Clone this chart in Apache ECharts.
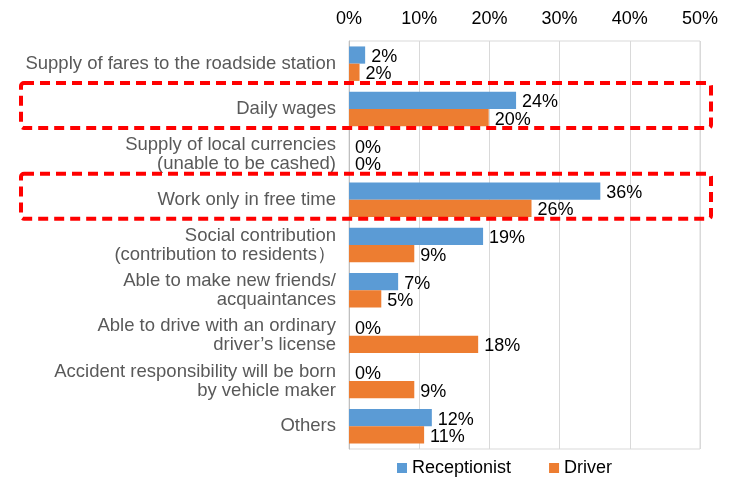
<!DOCTYPE html>
<html><head><meta charset="utf-8">
<script src="https://cdn.jsdelivr.net/npm/echarts@6/dist/echarts.min.js"></script>
<style>html,body{margin:0;padding:0;background:#fff}#c{width:737px;height:477px}</style>
</head><body><div id="c"></div>
<script>
const categories = [
  'Supply of fares to the roadside station',
  'Daily wages',
  'Supply of local currencies\n(unable to be cashed)',
  'Work only in free time',
  'Social contribution\n(contribution to residents\uFF09',
  'Able to make new friends/\nacquaintances',
  'Able to drive with an ordinary\ndriver\u2019s license',
  'Accident responsibility will be born\nby vehicle maker',
  'Others'
];
const receptionist = [2.3, 23.8, 0, 35.8, 19.1, 7.0, 0, 0, 11.8];
const driver = [1.5, 19.9, 0, 26.0, 9.3, 4.6, 18.4, 9.3, 10.7];
const xTicks = [0, 10, 20, 30, 40, 50];
const highlighted = [1, 3];

const chart = echarts.init(document.getElementById('c'));
const lbl = {show: true, position: 'right', distance: 6, color: '#000', fontSize: 18, fontFamily: 'Liberation Sans, Arial',
  offset: [0, 2], formatter: p => Math.round(p.value) + '%'};
chart.setOption({
  animation: false,
  textStyle: {fontFamily: 'Liberation Sans, Arial'},
  grid: {left: 349, right: 37, top: 41, bottom: 28, show: true, borderColor: '#d9d9d9', borderWidth: 1},
  legend: {bottom: -5, left: 392, itemWidth: 10, itemHeight: 10, itemGap: 38, icon: 'rect',
    textStyle: {fontSize: 18, color: '#000', padding: [0, 0, 0, 0]}, data: ['Receptionist', 'Driver']},
  xAxis: {type: 'value', position: 'top', min: xTicks[0], max: xTicks[xTicks.length - 1], interval: 10,
    axisLine: {show: false}, axisTick: {show: false},
    splitLine: {lineStyle: {color: '#d9d9d9'}},
    axisLabel: {formatter: '{value}%', fontSize: 18, color: '#000', margin: 13}},
  yAxis: {type: 'category', inverse: true, data: categories,
    axisLine: {lineStyle: {color: '#bfbfbf'}}, axisTick: {show: false},
    axisLabel: {fontSize: 18.5, color: '#595959', margin: 13, lineHeight: 19, align: 'right'}},
  series: [
    {name: 'Receptionist', type: 'bar', data: receptionist, barGap: '0%', barCategoryGap: '24%',
      itemStyle: {color: '#5B9BD5'}, label: lbl},
    {name: 'Driver', type: 'bar', data: driver, itemStyle: {color: '#ED7D31'}, label: lbl}
  ]
});
function drawBoxes() {
  const g = highlighted.map(i => {
    const yc = chart.convertToPixel({yAxisIndex: 0}, i);
    return {type: 'rect', shape: {x: 21, y: yc - 26, width: 690, height: 45, r: 3},
      style: {fill: 'none', stroke: '#FF0000', lineWidth: 4, lineDash: [10, 6]}, z: 100};
  });
  chart.setOption({graphic: g});
}
drawBoxes();
</script></body></html>
